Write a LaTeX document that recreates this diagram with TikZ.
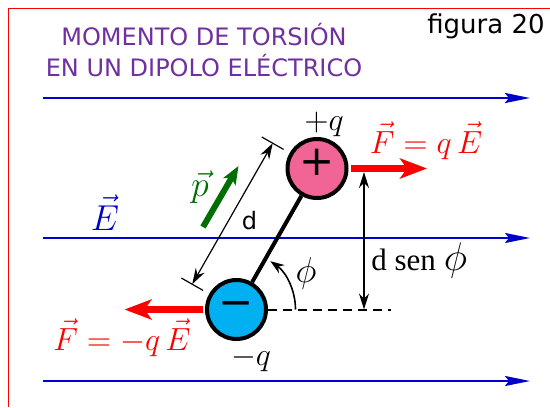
\RequirePackage{fix-cm}
\documentclass[tikz,border=0pt]{standalone}
\usepackage{fontspec}
\setmainfont{DejaVu Sans}
\newfontfamily\serifsen{Liberation Serif}
\usepackage{xcolor}
\usepackage{tikz}
\usetikzlibrary{arrows.meta, calc}
\definecolor{titlepurple}{RGB}{112, 48, 160}
\definecolor{fieldblue}{RGB}{0, 0, 204}
\definecolor{pospink}{RGB}{240, 100, 150}
\definecolor{negcyan}{RGB}{0, 176, 240}
\definecolor{dipgreen}{RGB}{0, 110, 0}
\newcommand{\sizept}[1]{\fontsize{#1}{#1}\selectfont}

\begin{document}
\begin{tikzpicture}[
    x=0.5pt, y=-0.5pt,
    charge/.style={circle, draw, line width=2pt, minimum size=29.5pt, inner sep=0pt, text height=0.7em, text depth=0pt, font=\sizept{21}},
    field/.style={fieldblue, line width=1pt, -{Stealth[length=12.5pt, width=5pt, inset=2pt]}},
    force/.style={red, line width=3.5pt, shorten <=1pt, -{Stealth[length=13.5pt, width=10pt, inset=3.5pt]}},
    dipole/.style={dipgreen, line width=3pt, -{Stealth[length=9pt, width=7pt, inset=2pt]}},
    dimline/.style={line width=0.6pt, {Stealth[length=8pt, width=5pt]}-{Stealth[length=8pt, width=5pt]}},
    endtick/.style={line width=0.6pt},
    rod/.style={line width=2pt},
    refline/.style={line width=1pt, dash pattern=on 4.5pt off 3pt},
    anglearrow/.style={line width=0.8pt, -{Stealth[length=7pt, width=5pt]}},
    mathlbl/.style={inner sep=0pt, anchor=base}
]
\useasboundingbox (0,0) rectangle (550,407);
\draw[red, line width=0.9pt] (8.5,407) |- (550,8.5);

\node[mathlbl, text=titlepurple, font=\sizept{12}] (title1) at (204,45) {MOMENTO DE TORSIÓN};
\node[mathlbl, text=titlepurple, font=\sizept{12}] (title2) at (204,76) {EN UN DIPOLO ELÉCTRICO};
\node[inner sep=0pt, anchor=base east, font=\sizept{13}] (fignum) at (545,33) {figura 20};

\foreach \y/\w in {98/1.4pt, 238/1pt, 381/1pt}
    \draw[field, line width=\w] (43,\y) -- (530,\y);
\node[mathlbl, text=fieldblue, font=\sizept{18}] (Elbl) at (105,230) {$\vec{E}$};

\coordinate (fright) at (427,168.5);
\coordinate (fleft) at (124.5,309.5);
\coordinate (refend) at (391,309.5);
\coordinate (htop) at (364,172);
\coordinate (hbot) at (364,309.5);
\coordinate (ptail) at (203,227);
\coordinate (phead) at (238.5,166);

\node[charge, fill=pospink] (pos) at (317,168.5) {+};
\node[charge, fill=negcyan] (neg) at (236.5,309.5) {−};
\draw[rod] (neg) -- (pos);
\draw[refline] (neg.east) -- (refend);
\draw[force] (pos.east) -- (fright);
\draw[force] (neg.west) -- (fleft);

\draw[anglearrow] ($(neg.center)+(59,0)$) arc[start angle=0, end angle=-55, radius=59];
\node[font=\sizept{18}] (philbl) at (306,273) {$\phi$};

\draw[dimline] (htop) -- (hbot);
\node[inner sep=0pt, anchor=base west] (hlbl) at (371,270) {{\serifsen\sizept{15.5}d sen}\hspace{4pt}{\sizept{20}$\phi$}};

\coordinate (dtop) at ($(pos.center)!25.5pt!-90:(neg.center)$);
\coordinate (dbot) at ($(neg.center)!25.5pt!90:(pos.center)$);
\draw[dimline] (dtop) -- (dbot);
\draw[endtick] ($(dtop)!6.25pt!90:(dbot)$) -- ($(dtop)!6.25pt!-90:(dbot)$);
\draw[endtick] ($(dbot)!6.25pt!90:(dtop)$) -- ($(dbot)!6.25pt!-90:(dtop)$);
\node[font=\sizept{12}] (dlbl) at (249.5,221) {d};

\draw[dipole] (ptail) -- (phead);
\node[mathlbl, text=dipgreen, font=\sizept{18}] (plbl) at (200,196.5) {$\vec{p}$};

\node[mathlbl, text=red, font=\sizept{16}] (Fpos) at (426,153) {$\vec{F} = q\,\vec{E}$};
\node[mathlbl, text=red, font=\sizept{16}] (Fneg) at (122,350) {$\vec{F} = -q\,\vec{E}$};
\node[mathlbl, font=\sizept{16}] (qpos) at (324,130) {$+q$};
\node[mathlbl, font=\sizept{16}] (qneg) at (251,365) {$-q$};
\end{tikzpicture}
\end{document}
